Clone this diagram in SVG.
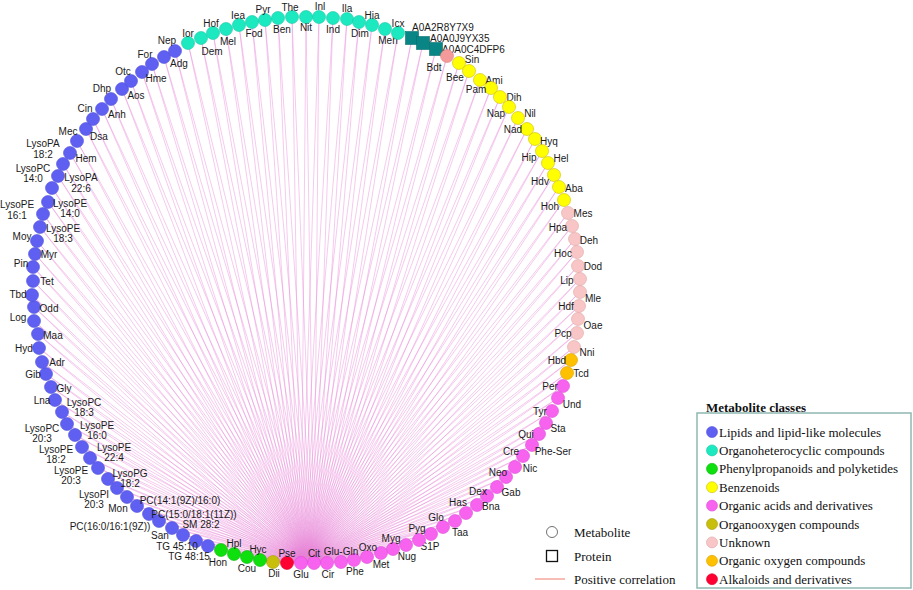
<svg xmlns="http://www.w3.org/2000/svg" width="913" height="590" viewBox="0 0 913 590">
<style>
text{font-family:"Liberation Sans",Arial,sans-serif;font-size:10px;fill:#1a1a1a;text-anchor:middle;dominant-baseline:central}
.s{text-anchor:start}
.lg{font-family:"Liberation Serif","Times New Roman",serif;font-size:13px;text-anchor:start;fill:#111}
.lgt{font-family:"Liberation Serif","Times New Roman",serif;font-size:13px;font-weight:bold;text-anchor:start;fill:#111}
circle{stroke-width:0.6}
.lp{fill:#5f5ff2;stroke:#5050d8}
.oh{fill:#1de9c0;stroke:#10c8a4}
.ph{fill:#0ee00e;stroke:#0ab40a}
.bz{fill:#ffff00;stroke:#d0bc00}
.oa{fill:#f763ef;stroke:#de4ad6}
.oo{fill:#c8bf0c;stroke:#a49c08}
.un{fill:#f8c6c6;stroke:#e0a6a6}
.og{fill:#ffc000;stroke:#d9a000}
.al{fill:#ff0033;stroke:#d80028}
.bd{fill:#f59a9a;stroke:#e08080}
.pr{fill:#0a8585;stroke:#066e6e;stroke-width:0.6}
.edge{fill:none;stroke:#e680d6;stroke-width:0.7;stroke-opacity:0.6}
</style>
<g id="connectors">
<path class="edge" d="M301 563L188 43M301 563L201 38M301 563L213 33M301 563L226 29M301 563L239 25M301 563L252 22M301 563L265 20M301 563L278 18M301 563L292 17M301 563L306 17M301 563L319 17M301 563L333 18M301 563L347 19M301 563L359 22M301 563L372 25M301 563L385 29M301 563L398 33M301 563L412 38M301 563L423 43M301 563L436 49M301 563L447 56M301 563L459 63M301 563L469 71M301 563L480 80M301 563L491 88M301 563L500 97M301 563L509 107M301 563L518 118M301 563L527 129M301 563L535 139M301 563L542 151M301 563L548 163M301 563L554 175M301 563L559 187M301 563L564 200M301 563L568 213M301 563L572 226M301 563L575 239M301 563L577 252M301 563L578 266M301 563L580 279M301 563L580 292M301 563L579 306M301 563L578 319M301 563L577 333M301 563L574 347M301 563L571 360M301 563L567 373M301 563L563 386M301 563L558 398M301 563L552 411M301 563L546 423M301 563L539 434M301 563L532 445M301 563L523 456M301 563L515 467M301 563L506 477M301 563L497 487M301 563L487 496M301 563L477 505M301 563L466 513M301 563L455 521M301 563L443 527M301 563L431 534M301 563L419 540M301 563L406 545M301 563L393 549M301 563L381 553M301 563L367 557M301 563L354 560M301 563L341 562M301 563L327 563M301 563L287 563M301 563L273 562M301 563L260 560M301 563L247 557M301 563L234 554M301 563L221 550M301 563L208 546M301 563L196 541M301 563L183 535M301 563L172 528M301 563L159 521M301 563L149 514M301 563L137 506M301 563L127 497M301 563L117 488M301 563L108 479M301 563L98 468M301 563L90 458M301 563L82 447M301 563L75 435M301 563L67 424M301 563L62 412M301 563L55 400M301 563L51 387M301 563L46 374M301 563L42 362M301 563L39 348M301 563L38 334M301 563L34 321M301 563L34 307M301 563L32 295M301 563L33 281M301 563L33 267M301 563L35 254M301 563L37 241M301 563L40 227M301 563L43 214M301 563L48 202M301 563L52 188M301 563L58 176M301 563L63 164M301 563L70 153M301 563L77 141M301 563L86 129M301 563L93 119M301 563L102 109M301 563L111 99M301 563L122 89M301 563L131 81M301 563L142 72M301 563L152 64M301 563L164 57M301 563L175 51"/>
<path class="edge" d="M314 563L188 43M314 563L201 38M314 563L213 33M314 563L226 29M314 563L239 25M314 563L252 22M314 563L265 20M314 563L278 18M314 563L292 17M314 563L306 17M314 563L319 17M314 563L333 18M314 563L347 19M314 563L359 22M314 563L372 25M314 563L385 29M314 563L398 33M314 563L412 38M314 563L423 43M314 563L436 49M314 563L447 56M314 563L459 63M314 563L469 71M314 563L480 80M314 563L491 88M314 563L500 97M314 563L509 107M314 563L518 118M314 563L527 129M314 563L535 139M314 563L542 151M314 563L548 163M314 563L554 175M314 563L559 187M314 563L564 200M314 563L568 213M314 563L572 226M314 563L575 239M314 563L577 252M314 563L578 266M314 563L580 279M314 563L580 292M314 563L579 306M314 563L578 319M314 563L577 333M314 563L574 347M314 563L571 360M314 563L567 373M314 563L563 386M314 563L558 398M314 563L552 411M314 563L546 423M314 563L539 434M314 563L532 445M314 563L523 456M314 563L515 467M314 563L506 477M314 563L497 487M314 563L487 496M314 563L477 505M314 563L466 513M314 563L455 521M314 563L443 527M314 563L431 534M314 563L419 540M314 563L406 545M314 563L393 549M314 563L381 553M314 563L367 557M314 563L354 560M314 563L341 562M314 563L327 563M314 563L287 563M314 563L273 562M314 563L260 560M314 563L247 557M314 563L234 554M314 563L221 550M314 563L208 546M314 563L196 541M314 563L183 535M314 563L172 528M314 563L159 521M314 563L149 514M314 563L137 506M314 563L127 497M314 563L117 488M314 563L108 479M314 563L98 468M314 563L90 458M314 563L82 447M314 563L75 435M314 563L67 424M314 563L62 412M314 563L55 400M314 563L51 387M314 563L46 374M314 563L42 362M314 563L39 348M314 563L38 334M314 563L34 321M314 563L34 307M314 563L32 295M314 563L33 281M314 563L33 267M314 563L35 254M314 563L37 241M314 563L40 227M314 563L43 214M314 563L48 202M314 563L52 188M314 563L58 176M314 563L63 164M314 563L70 153M314 563L77 141M314 563L86 129M314 563L93 119M314 563L102 109M314 563L111 99M314 563L122 89M314 563L131 81M314 563L142 72M314 563L152 64M314 563L164 57M314 563L175 51"/>
</g>
<g id="nodes">
<g id="n-Ior"><circle class="oh" cx="188" cy="43" r="6.5"/><text x="188" y="33">Ior</text></g>
<g id="n-Dem"><circle class="oh" cx="201" cy="38" r="6.5"/><text x="212" y="51">Dem</text></g>
<g id="n-Hof"><circle class="oh" cx="213" cy="33" r="6.5"/><text x="211" y="23">Hof</text></g>
<g id="n-Mel"><circle class="oh" cx="226" cy="29" r="6.5"/><text x="228" y="41">Mel</text></g>
<g id="n-Iea"><circle class="oh" cx="239" cy="25" r="6.5"/><text x="238" y="15">Iea</text></g>
<g id="n-Fod"><circle class="oh" cx="252" cy="22" r="6.5"/><text x="254" y="33">Fod</text></g>
<g id="n-Pyr"><circle class="oh" cx="265" cy="20" r="6.5"/><text x="263" y="9">Pyr</text></g>
<g id="n-Ben"><circle class="oh" cx="278" cy="18" r="6.5"/><text x="282" y="29">Ben</text></g>
<g id="n-The"><circle class="oh" cx="292" cy="17" r="6.5"/><text x="290" y="7">The</text></g>
<g id="n-Nit"><circle class="oh" cx="306" cy="17" r="6.5"/><text x="306" y="27">Nit</text></g>
<g id="n-Inl"><circle class="oh" cx="319" cy="17" r="6.5"/><text x="320" y="6">Inl</text></g>
<g id="n-Ind"><circle class="oh" cx="333" cy="18" r="6.5"/><text x="333" y="29">Ind</text></g>
<g id="n-Ila"><circle class="oh" cx="347" cy="19" r="6.5"/><text x="347" y="8">Ila</text></g>
<g id="n-Dim"><circle class="oh" cx="359" cy="22" r="6.5"/><text x="360" y="33">Dim</text></g>
<g id="n-Hia"><circle class="oh" cx="372" cy="25" r="6.5"/><text x="372" y="15">Hia</text></g>
<g id="n-Meh"><circle class="oh" cx="385" cy="29" r="6.5"/><text x="388" y="40">Meh</text></g>
<g id="n-Icx"><circle class="oh" cx="398" cy="33" r="6.5"/><text x="398" y="23">Icx</text></g>
<g id="p-A0A2R8Y7X9"><rect class="pr" x="405.5" y="31.5" width="13" height="13"/><text class="s" x="412" y="27">A0A2R8Y7X9</text></g>
<g id="p-A0A0J9YX35"><rect class="pr" x="416.5" y="36.5" width="13" height="13"/><text class="s" x="430" y="38">A0A0J9YX35</text></g>
<g id="p-A0A0C4DFP6"><rect class="pr" x="429.5" y="42.5" width="13" height="13"/><text class="s" x="442" y="49">A0A0C4DFP6</text></g>
<g id="n-Bdt"><circle class="bd" cx="447" cy="56" r="6.5"/><text x="434" y="67">Bdt</text></g>
<g id="n-Sin"><circle class="bz" cx="459" cy="63" r="6.5"/><text x="472" y="59">Sin</text></g>
<g id="n-Bee"><circle class="bz" cx="469" cy="71" r="6.5"/><text x="455" y="77">Bee</text></g>
<g id="n-Ami"><circle class="bz" cx="480" cy="80" r="6.5"/><text x="494" y="80">Ami</text></g>
<g id="n-Pam"><circle class="bz" cx="491" cy="88" r="6.5"/><text x="476" y="89">Pam</text></g>
<g id="n-Dih"><circle class="bz" cx="500" cy="97" r="6.5"/><text x="514" y="97">Dih</text></g>
<g id="n-Nap"><circle class="bz" cx="509" cy="107" r="6.5"/><text x="496" y="113">Nap</text></g>
<g id="n-Nil"><circle class="bz" cx="518" cy="118" r="6.5"/><text x="530" y="113">Nil</text></g>
<g id="n-Nad"><circle class="bz" cx="527" cy="129" r="6.5"/><text x="513" y="129">Nad</text></g>
<g id="n-Hyq"><circle class="bz" cx="535" cy="139" r="6.5"/><text x="549" y="141">Hyq</text></g>
<g id="n-Hip"><circle class="bz" cx="542" cy="151" r="6.5"/><text x="529" y="157">Hip</text></g>
<g id="n-Hel"><circle class="bz" cx="548" cy="163" r="6.5"/><text x="561" y="158">Hel</text></g>
<g id="n-Hdv"><circle class="bz" cx="554" cy="175" r="6.5"/><text x="540" y="181">Hdv</text></g>
<g id="n-Aba"><circle class="bz" cx="559" cy="187" r="6.5"/><text x="574" y="188">Aba</text></g>
<g id="n-Hoh"><circle class="bz" cx="564" cy="200" r="6.5"/><text x="550" y="206">Hoh</text></g>
<g id="n-Mes"><circle class="un" cx="568" cy="213" r="6.5"/><text x="583" y="213">Mes</text></g>
<g id="n-Hpa"><circle class="un" cx="572" cy="226" r="6.5"/><text x="558" y="227">Hpa</text></g>
<g id="n-Deh"><circle class="un" cx="575" cy="239" r="6.5"/><text x="589" y="240">Deh</text></g>
<g id="n-Hoc"><circle class="un" cx="577" cy="252" r="6.5"/><text x="563" y="253">Hoc</text></g>
<g id="n-Dod"><circle class="un" cx="578" cy="266" r="6.5"/><text x="593" y="266">Dod</text></g>
<g id="n-Lip"><circle class="un" cx="580" cy="279" r="6.5"/><text x="567" y="280">Lip</text></g>
<g id="n-Mle"><circle class="un" cx="580" cy="292" r="6.5"/><text x="593" y="298">Mle</text></g>
<g id="n-Hdf"><circle class="un" cx="579" cy="306" r="6.5"/><text x="566" y="306">Hdf</text></g>
<g id="n-Oae"><circle class="un" cx="578" cy="319" r="6.5"/><text x="593" y="325">Oae</text></g>
<g id="n-Pcp"><circle class="un" cx="577" cy="333" r="6.5"/><text x="563" y="333">Pcp</text></g>
<g id="n-Nni"><circle class="un" cx="574" cy="347" r="6.5"/><text x="587" y="352">Nni</text></g>
<g id="n-Hbd"><circle class="og" cx="571" cy="360" r="6.5"/><text x="557" y="360">Hbd</text></g>
<g id="n-Tcd"><circle class="og" cx="567" cy="373" r="6.5"/><text x="581" y="373">Tcd</text></g>
<g id="n-Per"><circle class="oa" cx="563" cy="386" r="6.5"/><text x="550" y="386">Per</text></g>
<g id="n-Und"><circle class="oa" cx="558" cy="398" r="6.5"/><text x="572" y="404">Und</text></g>
<g id="n-Tyr"><circle class="oa" cx="552" cy="411" r="6.5"/><text x="540" y="411">Tyr</text></g>
<g id="n-Sta"><circle class="oa" cx="546" cy="423" r="6.5"/><text x="558" y="428">Sta</text></g>
<g id="n-Qui"><circle class="oa" cx="539" cy="434" r="6.5"/><text x="526" y="434">Qui</text></g>
<g id="n-Phe-Ser"><circle class="oa" cx="532" cy="445" r="6.5"/><text x="553" y="451">Phe-Ser</text></g>
<g id="n-Cre"><circle class="oa" cx="523" cy="456" r="6.5"/><text x="511" y="451">Cre</text></g>
<g id="n-Nic"><circle class="oa" cx="515" cy="467" r="6.5"/><text x="530" y="468">Nic</text></g>
<g id="n-Neo"><circle class="oa" cx="506" cy="477" r="6.5"/><text x="498" y="472">Neo</text></g>
<g id="n-Gab"><circle class="oa" cx="497" cy="487" r="6.5"/><text x="511" y="492">Gab</text></g>
<g id="n-Dex"><circle class="oa" cx="487" cy="496" r="6.5"/><text x="478" y="491">Dex</text></g>
<g id="n-Bna"><circle class="oa" cx="477" cy="505" r="6.5"/><text x="491" y="506">Bna</text></g>
<g id="n-Has"><circle class="oa" cx="466" cy="513" r="6.5"/><text x="458" y="502">Has</text></g>
<g id="n-Taa"><circle class="oa" cx="455" cy="521" r="6.5"/><text x="460" y="532">Taa</text></g>
<g id="n-Glo"><circle class="oa" cx="443" cy="527" r="6.5"/><text x="436" y="517">Glo</text></g>
<g id="n-S1P"><circle class="oa" cx="431" cy="534" r="6.5"/><text x="430" y="546">S1P</text></g>
<g id="n-Pyg"><circle class="oa" cx="419" cy="540" r="6.5"/><text x="417" y="528">Pyg</text></g>
<g id="n-Nug"><circle class="oa" cx="406" cy="545" r="6.5"/><text x="407" y="556">Nug</text></g>
<g id="n-Myg"><circle class="oa" cx="393" cy="549" r="6.5"/><text x="391" y="538">Myg</text></g>
<g id="n-Met"><circle class="oa" cx="381" cy="553" r="6.5"/><text x="381" y="564">Met</text></g>
<g id="n-Oxo"><circle class="oa" cx="367" cy="557" r="6.5"/><text x="368" y="547">Oxo</text></g>
<g id="n-Phe"><circle class="oa" cx="354" cy="560" r="6.5"/><text x="355" y="571">Phe</text></g>
<g id="n-Glu-Gln"><circle class="oa" cx="341" cy="562" r="6.5"/><text x="341" y="551">Glu-Gln</text></g>
<g id="n-Cir"><circle class="oa" cx="327" cy="563" r="6.5"/><text x="328" y="574">Cir</text></g>
<g id="n-Cit"><circle class="oa" cx="314" cy="563" r="6.5"/><text x="314" y="553">Cit</text></g>
<g id="n-Glu"><circle class="oa" cx="301" cy="563" r="6.5"/><text x="301" y="574">Glu</text></g>
<g id="n-Pse"><circle class="al" cx="287" cy="563" r="6.5"/><text x="287" y="553">Pse</text></g>
<g id="n-Dii"><circle class="oo" cx="273" cy="562" r="6.5"/><text x="274" y="573">Dii</text></g>
<g id="n-Hyc"><circle class="ph" cx="260" cy="560" r="6.5"/><text x="258" y="549">Hyc</text></g>
<g id="n-Cou"><circle class="ph" cx="247" cy="557" r="6.5"/><text x="247" y="568">Cou</text></g>
<g id="n-Hpl"><circle class="ph" cx="234" cy="554" r="6.5"/><text x="234" y="543">Hpl</text></g>
<g id="n-Hon"><circle class="ph" cx="221" cy="550" r="6.5"/><text x="218" y="562">Hon</text></g>
<g id="n-TG48"><circle class="lp" cx="208" cy="546" r="6.5"/><text x="189" y="556">TG 48:15</text></g>
<g id="n-TG45"><circle class="lp" cx="196" cy="541" r="6.5"/><text x="177" y="546">TG 45:10</text></g>
<g id="n-San"><circle class="lp" cx="183" cy="535" r="6.5"/><text x="160" y="535">San</text></g>
<g id="n-SM"><circle class="lp" cx="172" cy="528" r="6.5"/><text x="201" y="524">SM 28:2</text></g>
<g id="n-PC16"><circle class="lp" cx="159" cy="521" r="6.5"/><text x="110" y="526">PC(16:0/16:1(9Z))</text></g>
<g id="n-PC15"><circle class="lp" cx="149" cy="514" r="6.5"/><text x="194" y="514">PC(15:0/18:1(11Z))</text></g>
<g id="n-Mon"><circle class="lp" cx="137" cy="506" r="6.5"/><text x="118" y="508">Mon</text></g>
<g id="n-PC14"><circle class="lp" cx="127" cy="497" r="6.5"/><text x="180" y="500">PC(14:1(9Z)/16:0)</text></g>
<g id="n-LysoPI203"><circle class="lp" cx="117" cy="488" r="6.5"/><text x="94" y="494">LysoPI</text><text x="94" y="504">20:3</text></g>
<g id="n-LysoPG182"><circle class="lp" cx="108" cy="479" r="6.5"/><text x="130" y="473">LysoPG</text><text x="130" y="483">18:2</text></g>
<g id="n-LysoPE203"><circle class="lp" cx="98" cy="468" r="6.5"/><text x="71" y="470">LysoPE</text><text x="71" y="480">20:3</text></g>
<g id="n-LysoPE224"><circle class="lp" cx="90" cy="458" r="6.5"/><text x="114" y="447">LysoPE</text><text x="114" y="457">22:4</text></g>
<g id="n-LysoPE182"><circle class="lp" cx="82" cy="447" r="6.5"/><text x="56" y="449.5">LysoPE</text><text x="56" y="459.5">18:2</text></g>
<g id="n-LysoPE160"><circle class="lp" cx="75" cy="435" r="6.5"/><text x="97" y="425">LysoPE</text><text x="97" y="435">16:0</text></g>
<g id="n-LysoPC203"><circle class="lp" cx="67" cy="424" r="6.5"/><text x="42" y="428.5">LysoPC</text><text x="42" y="438.5">20:3</text></g>
<g id="n-LysoPC183"><circle class="lp" cx="62" cy="412" r="6.5"/><text x="84" y="402">LysoPC</text><text x="84" y="412">18:3</text></g>
<g id="n-Lna"><circle class="lp" cx="55" cy="400" r="6.5"/><text x="42" y="400">Lna</text></g>
<g id="n-Gly"><circle class="lp" cx="51" cy="387" r="6.5"/><text x="64" y="388">Gly</text></g>
<g id="n-Gib"><circle class="lp" cx="46" cy="374" r="6.5"/><text x="33" y="374">Gib</text></g>
<g id="n-Adr"><circle class="lp" cx="42" cy="362" r="6.5"/><text x="57" y="362">Adr</text></g>
<g id="n-Hyd"><circle class="lp" cx="39" cy="348" r="6.5"/><text x="24" y="348">Hyd</text></g>
<g id="n-Maa"><circle class="lp" cx="38" cy="334" r="6.5"/><text x="53" y="335">Maa</text></g>
<g id="n-Log"><circle class="lp" cx="34" cy="321" r="6.5"/><text x="18" y="317">Log</text></g>
<g id="n-Odd"><circle class="lp" cx="34" cy="307" r="6.5"/><text x="49" y="308">Odd</text></g>
<g id="n-Tbd"><circle class="lp" cx="32" cy="295" r="6.5"/><text x="18" y="294">Tbd</text></g>
<g id="n-Tet"><circle class="lp" cx="33" cy="281" r="6.5"/><text x="47" y="281">Tet</text></g>
<g id="n-Pin"><circle class="lp" cx="33" cy="267" r="6.5"/><text x="21" y="263">Pin</text></g>
<g id="n-Myr"><circle class="lp" cx="35" cy="254" r="6.5"/><text x="49" y="254">Myr</text></g>
<g id="n-Moy"><circle class="lp" cx="37" cy="241" r="6.5"/><text x="22" y="236">Moy</text></g>
<g id="n-LysoPE183"><circle class="lp" cx="40" cy="227" r="6.5"/><text x="63" y="228">LysoPE</text><text x="63" y="238">18:3</text></g>
<g id="n-LysoPE161"><circle class="lp" cx="43" cy="214" r="6.5"/><text x="17" y="204">LysoPE</text><text x="17" y="215">16:1</text></g>
<g id="n-LysoPE140"><circle class="lp" cx="48" cy="202" r="6.5"/><text x="70" y="203">LysoPE</text><text x="70" y="213">14:0</text></g>
<g id="n-LysoPC140"><circle class="lp" cx="52" cy="188" r="6.5"/><text x="33" y="168">LysoPC</text><text x="33" y="178">14:0</text></g>
<g id="n-LysoPA226"><circle class="lp" cx="58" cy="176" r="6.5"/><text x="81" y="177">LysoPA</text><text x="81" y="188">22:6</text></g>
<g id="n-LysoPA182"><circle class="lp" cx="63" cy="164" r="6.5"/><text x="43" y="143">LysoPA</text><text x="43" y="154">18:2</text></g>
<g id="n-Hem"><circle class="lp" cx="70" cy="153" r="6.5"/><text x="86" y="158">Hem</text></g>
<g id="n-Mec"><circle class="lp" cx="77" cy="141" r="6.5"/><text x="68" y="131">Mec</text></g>
<g id="n-Dsa"><circle class="lp" cx="86" cy="129" r="6.5"/><text x="99" y="136">Dsa</text></g>
<g id="n-Cin"><circle class="lp" cx="93" cy="119" r="6.5"/><text x="85" y="108">Cin</text></g>
<g id="n-Anh"><circle class="lp" cx="102" cy="109" r="6.5"/><text x="117" y="114">Anh</text></g>
<g id="n-Dhp"><circle class="lp" cx="111" cy="99" r="6.5"/><text x="102" y="88">Dhp</text></g>
<g id="n-Aos"><circle class="lp" cx="122" cy="89" r="6.5"/><text x="136" y="95">Aos</text></g>
<g id="n-Otc"><circle class="lp" cx="131" cy="81" r="6.5"/><text x="123" y="71">Otc</text></g>
<g id="n-Hme"><circle class="lp" cx="142" cy="72" r="6.5"/><text x="156" y="78">Hme</text></g>
<g id="n-For"><circle class="lp" cx="152" cy="64" r="6.5"/><text x="145" y="54">For</text></g>
<g id="n-Adg"><circle class="lp" cx="164" cy="57" r="6.5"/><text x="179" y="63">Adg</text></g>
<g id="n-Nep"><circle class="lp" cx="175" cy="51" r="6.5"/><text x="167" y="40">Nep</text></g>
</g>
<g id="legend-shapes">
<circle cx="552" cy="532" r="5.5" fill="none" stroke="#111" stroke-width="1.3"/>
<text class="lg" x="574" y="532">Metabolite</text>
<rect x="546.5" y="550.5" width="11" height="11" fill="none" stroke="#111" stroke-width="1.3"/>
<text class="lg" x="574" y="556">Protein</text>
<line x1="535" y1="579" x2="565" y2="579" stroke="#f07a6a" stroke-width="1"/>
<text class="lg" x="574" y="579">Positive correlation</text>
</g>
<g id="legend-classes">
<text class="lgt" x="706" y="407">Metabolite classes</text>
<rect x="697" y="413" width="214" height="175" fill="#fff" stroke="#8fb8b2" stroke-width="1.5"/>
<circle class="lp" cx="712" cy="432" r="5.5"/><text class="lg" x="719" y="432">Lipids and lipid-like molecules</text>
<circle class="oh" cx="712" cy="450.4" r="5.5"/><text class="lg" x="719" y="450.4">Organoheterocyclic compounds</text>
<circle class="ph" cx="712" cy="468.8" r="5.5"/><text class="lg" x="719" y="468.8">Phenylpropanoids and polyketides</text>
<circle class="bz" cx="712" cy="487.2" r="5.5"/><text class="lg" x="719" y="487.2">Benzenoids</text>
<circle class="oa" cx="712" cy="505.6" r="5.5"/><text class="lg" x="719" y="505.6">Organic acids and derivatives</text>
<circle class="oo" cx="712" cy="524" r="5.5"/><text class="lg" x="719" y="524">Organooxygen compounds</text>
<circle class="un" cx="712" cy="542.4" r="5.5"/><text class="lg" x="719" y="542.4">Unknown</text>
<circle class="og" cx="712" cy="560.8" r="5.5"/><text class="lg" x="719" y="560.8">Organic oxygen compounds</text>
<circle class="al" cx="712" cy="579.2" r="5.5"/><text class="lg" x="719" y="579.2">Alkaloids and derivatives</text>
</g>
</svg>
